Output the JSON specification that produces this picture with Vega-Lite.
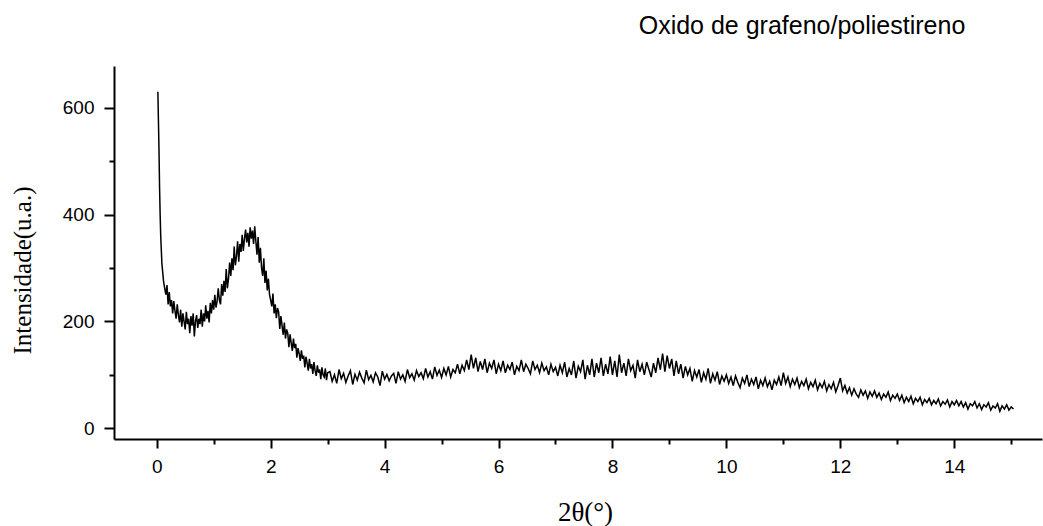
{
"$schema": "https://vega.github.io/schema/vega-lite/v6.json",
"width": 928,
"height": 373,
"autosize": {"type": "none"},
"padding": {"left": 114, "top": 66, "right": 1, "bottom": 87},
"background": "white",
"config": {
  "view": {"stroke": null},
  "axis": {"grid": false, "domainColor": "black", "domainWidth": 2, "tickColor": "black", "tickWidth": 2, "labelColor": "black", "labelFont": "Liberation Sans", "labelFontSize": 19, "titleColor": "black"}
},
"title": {"text": "Oxido de grafeno/poliestireno", "font": "Liberation Sans", "fontSize": 25, "fontWeight": "normal", "color": "black", "anchor": "middle", "dx": 224, "offset": 27},
"data": {"values": [
{"x":0.02,"y":630},{"x":0.03,"y":575},{"x":0.04,"y":520},{"x":0.05,"y":450},{"x":0.06,"y":400},{"x":0.07,"y":360},{"x":0.08,"y":335},{"x":0.09,"y":310},{"x":0.10,"y":298},{"x":0.12,"y":275},{"x":0.14,"y":262},{"x":0.16,"y":250},{"x":0.18,"y":268},{"x":0.20,"y":232},{"x":0.22,"y":255},{"x":0.24,"y":228},{"x":0.26,"y":240},{"x":0.28,"y":215},{"x":0.30,"y":238},{"x":0.32,"y":220},{"x":0.34,"y":205},{"x":0.36,"y":232},{"x":0.38,"y":212},{"x":0.40,"y":198},{"x":0.42,"y":222},{"x":0.44,"y":190},{"x":0.46,"y":215},{"x":0.48,"y":200},{"x":0.50,"y":185},{"x":0.52,"y":218},{"x":0.54,"y":195},{"x":0.56,"y":205},{"x":0.58,"y":178},{"x":0.60,"y":210},{"x":0.62,"y":192},{"x":0.64,"y":215},{"x":0.66,"y":172},{"x":0.68,"y":200},{"x":0.70,"y":212},{"x":0.72,"y":188},{"x":0.74,"y":205},{"x":0.76,"y":195},{"x":0.78,"y":222},{"x":0.80,"y":190},{"x":0.82,"y":215},{"x":0.84,"y":200},{"x":0.86,"y":230},{"x":0.88,"y":205},{"x":0.90,"y":220},{"x":0.92,"y":198},{"x":0.94,"y":235},{"x":0.96,"y":215},{"x":0.98,"y":240},
{"x":1.00,"y":222},{"x":1.02,"y":250},{"x":1.04,"y":226},{"x":1.06,"y":238},{"x":1.08,"y":262},{"x":1.10,"y":240},{"x":1.12,"y":232},{"x":1.14,"y":270},{"x":1.16,"y":248},{"x":1.18,"y":276},{"x":1.20,"y":255},{"x":1.22,"y":298},{"x":1.24,"y":262},{"x":1.26,"y":280},{"x":1.28,"y":310},{"x":1.30,"y":285},{"x":1.32,"y":318},{"x":1.34,"y":296},{"x":1.36,"y":340},{"x":1.38,"y":305},{"x":1.40,"y":322},{"x":1.42,"y":350},{"x":1.44,"y":312},{"x":1.46,"y":345},{"x":1.48,"y":330},{"x":1.50,"y":362},{"x":1.52,"y":332},{"x":1.54,"y":355},{"x":1.56,"y":372},{"x":1.58,"y":348},{"x":1.60,"y":366},{"x":1.62,"y":340},{"x":1.64,"y":376},{"x":1.66,"y":355},{"x":1.68,"y":370},{"x":1.70,"y":345},{"x":1.72,"y":378},{"x":1.74,"y":350},{"x":1.76,"y":325},{"x":1.78,"y":358},{"x":1.80,"y":310},{"x":1.82,"y":338},{"x":1.84,"y":300},{"x":1.86,"y":285},{"x":1.88,"y":318},{"x":1.90,"y":272},{"x":1.92,"y":295},{"x":1.94,"y":258},{"x":1.96,"y":280},{"x":1.98,"y":250},
{"x":2.00,"y":240},{"x":2.02,"y":228},{"x":2.04,"y":252},{"x":2.06,"y":215},{"x":2.08,"y":232},{"x":2.10,"y":206},{"x":2.12,"y":225},{"x":2.14,"y":218},{"x":2.16,"y":186},{"x":2.18,"y":210},{"x":2.20,"y":192},{"x":2.22,"y":175},{"x":2.24,"y":198},{"x":2.26,"y":168},{"x":2.28,"y":185},{"x":2.30,"y":178},{"x":2.32,"y":152},{"x":2.34,"y":176},{"x":2.36,"y":160},{"x":2.38,"y":145},{"x":2.40,"y":168},{"x":2.42,"y":150},{"x":2.44,"y":158},{"x":2.46,"y":132},{"x":2.48,"y":150},{"x":2.50,"y":140},{"x":2.52,"y":126},{"x":2.54,"y":146},{"x":2.56,"y":130},{"x":2.58,"y":136},{"x":2.60,"y":114},{"x":2.62,"y":134},{"x":2.64,"y":122},{"x":2.66,"y":108},{"x":2.68,"y":130},{"x":2.70,"y":112},{"x":2.72,"y":120},{"x":2.74,"y":102},{"x":2.76,"y":124},{"x":2.78,"y":108},{"x":2.80,"y":98},{"x":2.82,"y":118},{"x":2.84,"y":104},{"x":2.86,"y":110},{"x":2.88,"y":92},{"x":2.90,"y":114},{"x":2.92,"y":100},{"x":2.94,"y":96},{"x":2.96,"y":112},{"x":2.98,"y":90},{"x":3.00,"y":104},
{"x":3.04,"y":106},{"x":3.08,"y":88},{"x":3.12,"y":100},{"x":3.16,"y":84},{"x":3.20,"y":110},{"x":3.24,"y":93},{"x":3.28,"y":103},{"x":3.32,"y":86},{"x":3.36,"y":98},{"x":3.40,"y":108},{"x":3.44,"y":82},{"x":3.48,"y":101},{"x":3.52,"y":90},{"x":3.56,"y":105},{"x":3.60,"y":94},{"x":3.64,"y":85},{"x":3.68,"y":109},{"x":3.72,"y":91},{"x":3.76,"y":99},{"x":3.80,"y":87},{"x":3.84,"y":104},{"x":3.88,"y":96},{"x":3.92,"y":80},{"x":3.96,"y":107},{"x":4.00,"y":92},
{"x":4.04,"y":101},{"x":4.08,"y":89},{"x":4.12,"y":98},{"x":4.16,"y":103},{"x":4.20,"y":84},{"x":4.24,"y":106},{"x":4.28,"y":92},{"x":4.32,"y":100},{"x":4.36,"y":88},{"x":4.40,"y":110},{"x":4.44,"y":95},{"x":4.48,"y":102},{"x":4.52,"y":90},{"x":4.56,"y":108},{"x":4.60,"y":97},{"x":4.64,"y":104},{"x":4.68,"y":93},{"x":4.72,"y":112},{"x":4.76,"y":96},{"x":4.80,"y":106},{"x":4.84,"y":92},{"x":4.88,"y":115},{"x":4.92,"y":99},{"x":4.96,"y":109},{"x":5.00,"y":95},
{"x":5.04,"y":112},{"x":5.08,"y":100},{"x":5.12,"y":116},{"x":5.16,"y":96},{"x":5.20,"y":110},{"x":5.24,"y":104},{"x":5.28,"y":120},{"x":5.32,"y":102},{"x":5.36,"y":118},{"x":5.40,"y":108},{"x":5.44,"y":128},{"x":5.48,"y":110},{"x":5.52,"y":138},{"x":5.56,"y":112},{"x":5.60,"y":132},{"x":5.64,"y":106},{"x":5.68,"y":125},{"x":5.72,"y":110},{"x":5.76,"y":130},{"x":5.80,"y":104},{"x":5.84,"y":122},{"x":5.88,"y":112},{"x":5.92,"y":128},{"x":5.96,"y":102},{"x":6.00,"y":120},
{"x":6.04,"y":108},{"x":6.08,"y":126},{"x":6.12,"y":104},{"x":6.16,"y":118},{"x":6.20,"y":110},{"x":6.24,"y":124},{"x":6.28,"y":100},{"x":6.32,"y":116},{"x":6.36,"y":108},{"x":6.40,"y":128},{"x":6.44,"y":106},{"x":6.48,"y":120},{"x":6.52,"y":112},{"x":6.56,"y":102},{"x":6.60,"y":126},{"x":6.64,"y":110},{"x":6.68,"y":118},{"x":6.72,"y":104},{"x":6.76,"y":122},{"x":6.80,"y":108},{"x":6.84,"y":115},{"x":6.88,"y":100},{"x":6.92,"y":120},{"x":6.96,"y":106},{"x":7.00,"y":114},
{"x":7.04,"y":98},{"x":7.08,"y":118},{"x":7.12,"y":104},{"x":7.16,"y":124},{"x":7.20,"y":96},{"x":7.24,"y":112},{"x":7.28,"y":100},{"x":7.32,"y":126},{"x":7.36,"y":94},{"x":7.40,"y":116},{"x":7.44,"y":106},{"x":7.48,"y":128},{"x":7.52,"y":92},{"x":7.56,"y":118},{"x":7.60,"y":100},{"x":7.64,"y":130},{"x":7.68,"y":96},{"x":7.72,"y":122},{"x":7.76,"y":104},{"x":7.80,"y":132},{"x":7.84,"y":98},{"x":7.88,"y":120},{"x":7.92,"y":102},{"x":7.96,"y":134},{"x":8.00,"y":100},
{"x":8.04,"y":126},{"x":8.08,"y":96},{"x":8.12,"y":138},{"x":8.16,"y":104},{"x":8.20,"y":122},{"x":8.24,"y":98},{"x":8.28,"y":130},{"x":8.32,"y":108},{"x":8.36,"y":118},{"x":8.40,"y":94},{"x":8.44,"y":128},{"x":8.48,"y":106},{"x":8.52,"y":120},{"x":8.56,"y":100},{"x":8.60,"y":124},{"x":8.64,"y":110},{"x":8.68,"y":96},{"x":8.72,"y":122},{"x":8.76,"y":104},{"x":8.80,"y":132},{"x":8.84,"y":110},{"x":8.88,"y":140},{"x":8.92,"y":106},{"x":8.96,"y":136},{"x":9.00,"y":112},
{"x":9.04,"y":130},{"x":9.08,"y":98},{"x":9.12,"y":126},{"x":9.16,"y":102},{"x":9.20,"y":120},{"x":9.24,"y":94},{"x":9.28,"y":116},{"x":9.32,"y":100},{"x":9.36,"y":112},{"x":9.40,"y":88},{"x":9.44,"y":108},{"x":9.48,"y":96},{"x":9.52,"y":110},{"x":9.56,"y":86},{"x":9.60,"y":104},{"x":9.64,"y":92},{"x":9.68,"y":112},{"x":9.72,"y":84},{"x":9.76,"y":102},{"x":9.80,"y":90},{"x":9.84,"y":106},{"x":9.88,"y":82},{"x":9.92,"y":98},{"x":9.96,"y":88},{"x":10.00,"y":100},
{"x":10.04,"y":84},{"x":10.08,"y":96},{"x":10.12,"y":80},{"x":10.16,"y":98},{"x":10.20,"y":86},{"x":10.24,"y":76},{"x":10.28,"y":94},{"x":10.32,"y":84},{"x":10.36,"y":100},{"x":10.40,"y":78},{"x":10.44,"y":92},{"x":10.48,"y":82},{"x":10.52,"y":96},{"x":10.56,"y":74},{"x":10.60,"y":90},{"x":10.64,"y":80},{"x":10.68,"y":94},{"x":10.72,"y":78},{"x":10.76,"y":88},{"x":10.80,"y":72},{"x":10.84,"y":90},{"x":10.88,"y":82},{"x":10.92,"y":96},{"x":10.96,"y":80},{"x":11.00,"y":104},
{"x":11.04,"y":84},{"x":11.08,"y":96},{"x":11.12,"y":78},{"x":11.16,"y":92},{"x":11.20,"y":82},{"x":11.24,"y":94},{"x":11.28,"y":76},{"x":11.32,"y":88},{"x":11.36,"y":80},{"x":11.40,"y":92},{"x":11.44,"y":74},{"x":11.48,"y":86},{"x":11.52,"y":78},{"x":11.56,"y":90},{"x":11.60,"y":72},{"x":11.64,"y":84},{"x":11.68,"y":76},{"x":11.72,"y":88},{"x":11.76,"y":70},{"x":11.80,"y":82},{"x":11.84,"y":74},{"x":11.88,"y":86},{"x":11.92,"y":68},{"x":11.96,"y":80},{"x":12.00,"y":94},
{"x":12.04,"y":70},{"x":12.08,"y":80},{"x":12.12,"y":66},{"x":12.16,"y":76},{"x":12.20,"y":62},{"x":12.24,"y":74},{"x":12.28,"y":64},{"x":12.32,"y":58},{"x":12.36,"y":72},{"x":12.40,"y":62},{"x":12.44,"y":70},{"x":12.48,"y":56},{"x":12.52,"y":68},{"x":12.56,"y":60},{"x":12.60,"y":70},{"x":12.64,"y":58},{"x":12.68,"y":66},{"x":12.72,"y":54},{"x":12.76,"y":64},{"x":12.80,"y":58},{"x":12.84,"y":68},{"x":12.88,"y":52},{"x":12.92,"y":62},{"x":12.96,"y":56},{"x":13.00,"y":64},
{"x":13.04,"y":52},{"x":13.08,"y":62},{"x":13.12,"y":48},{"x":13.16,"y":58},{"x":13.20,"y":50},{"x":13.24,"y":60},{"x":13.28,"y":46},{"x":13.32,"y":56},{"x":13.36,"y":50},{"x":13.40,"y":58},{"x":13.44,"y":44},{"x":13.48,"y":54},{"x":13.52,"y":48},{"x":13.56,"y":56},{"x":13.60,"y":44},{"x":13.64,"y":52},{"x":13.68,"y":46},{"x":13.72,"y":55},{"x":13.76,"y":42},{"x":13.80,"y":50},{"x":13.84,"y":45},{"x":13.88,"y":53},{"x":13.92,"y":40},{"x":13.96,"y":50},{"x":14.00,"y":44},
{"x":14.04,"y":52},{"x":14.08,"y":42},{"x":14.12,"y":50},{"x":14.16,"y":40},{"x":14.20,"y":48},{"x":14.24,"y":36},{"x":14.28,"y":46},{"x":14.32,"y":42},{"x":14.36,"y":50},{"x":14.40,"y":38},{"x":14.44,"y":46},{"x":14.48,"y":35},{"x":14.52,"y":44},{"x":14.56,"y":40},{"x":14.60,"y":48},{"x":14.64,"y":34},{"x":14.68,"y":42},{"x":14.72,"y":38},{"x":14.76,"y":46},{"x":14.80,"y":32},{"x":14.84,"y":42},{"x":14.88,"y":36},{"x":14.92,"y":44},{"x":14.96,"y":34},{"x":15.00,"y":40},{"x":15.04,"y":36}
]},
"mark": {"type": "line", "color": "black", "strokeWidth": 1.5, "clip": true},
"encoding": {
  "x": {"field": "x", "type": "quantitative",
        "scale": {"domain": [-0.75, 15.54], "nice": false, "zero": false},
        "axis": {"values": [0,1,2,3,4,5,6,7,8,9,10,11,12,13,14,15],
                 "labelExpr": "datum.value % 2 === 0 ? datum.label : ''",
                 "tickSize": {"condition": {"test": "datum.value % 2 === 0", "value": 9}, "value": 5},
                 "labelPadding": 9,
                 "title": "2θ(°)", "titleFont": "Liberation Serif", "titleFontSize": 27, "titleFontWeight": "normal",
                 "titleX": 471, "titleY": 60}},
  "y": {"field": "y", "type": "quantitative",
        "scale": {"domain": [-20, 678], "nice": false, "zero": false},
        "axis": {"values": [0,100,200,300,400,500,600],
                 "labelExpr": "datum.value % 200 === 0 ? datum.label : ''",
                 "tickSize": {"condition": {"test": "datum.value % 200 === 0", "value": 10}, "value": 5},
                 "labelPadding": 10,
                 "title": "Intensidade(u.a.)", "titleFont": "Liberation Serif", "titleFontSize": 25, "titleFontWeight": "normal",
                 "titleX": -79, "titleY": 204}}
}
}
